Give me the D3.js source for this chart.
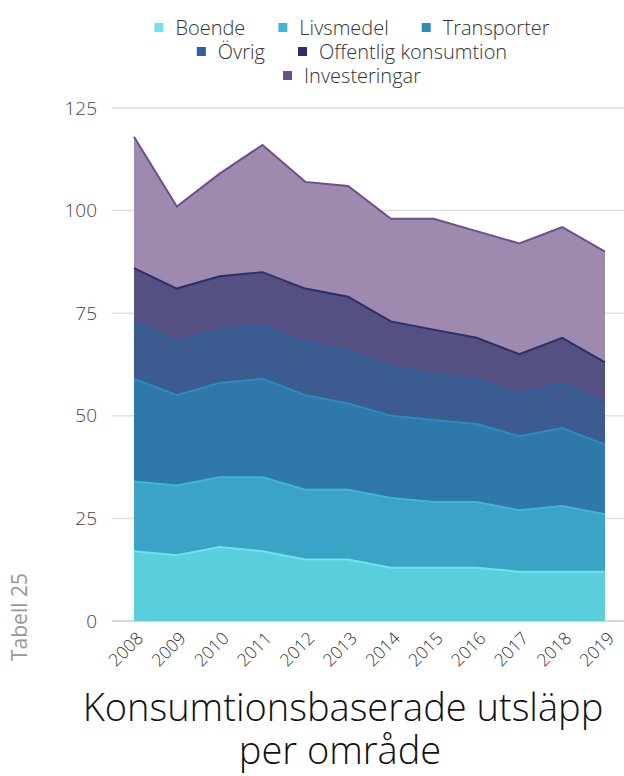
<!DOCTYPE html>
<html>
<head>
<meta charset="utf-8">
<script src="https://cdn.jsdelivr.net/npm/d3@7"></script>
<style>
  body { margin: 0; background: #fff; }
  text { font-family: "Open Sans", sans-serif; }
</style>
</head>
<body>
<div id="chart"></div>
<script>
const years = ["2008", "2009", "2010", "2011", "2012", "2013", "2014", "2015", "2016", "2017", "2018", "2019"];
const seriesNames = ["Boende", "Livsmedel", "Transporter", "Övrig", "Offentlig konsumtion", "Investeringar"];
const boende = [17, 16, 18, 17, 15, 15, 13, 13, 13, 12, 12, 12];
const livsmedel = [17, 17, 17, 18, 17, 17, 17, 16, 16, 15, 16, 14];
const transporter = [25, 22, 23, 24, 23, 21, 20, 20, 19, 18, 19, 17];
const ovrig = [14, 13, 13, 13, 13, 13, 12, 11, 11, 10, 11, 10];
const offentlig = [13, 13, 13, 13, 13, 13, 11, 11, 10, 10, 11, 10];
const investeringar = [32, 20, 25, 31, 26, 27, 25, 27, 26, 27, 27, 27];
const yTicks = [0, 25, 50, 75, 100, 125];

const lineColors = ["#6de3ea", "#41b6d8", "#2b8cbe", "#2c5f9e", "#2b2f6b", "#6d4f8b"];
const fillColors = ["#5bcedd", "#3aa3c6", "#2e78aa", "#3c5b90", "#545082", "#a089ae"];

const W = 624, H = 776;
const margin = { top: 108, right: 19, bottom: 155, left: 134 };

const svg = d3.select("#chart")
    .append("svg")
    .attr("width", W)
    .attr("height", H);

// build rows for the stack
const allSeries = [boende, livsmedel, transporter, ovrig, offentlig, investeringar];
const rows = years.map((yr, i) => {
    const r = { year: yr };
    seriesNames.forEach((n, k) => r[n] = allSeries[k][i]);
    return r;
});
const stacked = d3.stack().keys(seriesNames)(rows);

const x = d3.scalePoint()
    .domain(years)
    .range([margin.left, W - margin.right]);

const y = d3.scaleLinear()
    .domain([0, 125])
    .range([H - margin.bottom, margin.top]);

// gridlines
svg.append("g")
    .selectAll("line")
    .data(yTicks)
    .enter()
    .append("line")
    .attr("x1", 112)
    .attr("x2", W)
    .attr("y1", d => y(d))
    .attr("y2", d => y(d))
    .attr("stroke", d => d === 0 ? "#c8c8c8" : "#e0e0e0")
    .attr("stroke-width", 1.5);

// y labels
svg.append("g")
    .selectAll("text")
    .data(yTicks)
    .enter()
    .append("text")
    .attr("x", 97)
    .attr("y", d => y(d))
    .attr("dy", "0.35em")
    .attr("text-anchor", "end")
    .attr("font-size", 19)
    .attr("font-weight", 300)
    .attr("fill", "#444")
    .text(d => d);

const area = d3.area()
    .x(d => x(d.data.year))
    .y0(d => y(d[0]))
    .y1(d => y(d[1]));

const topLine = d3.line()
    .x(d => x(d.data.year))
    .y(d => y(d[1]));

const layers = svg.append("g");
layers.selectAll("path.area")
    .data(stacked)
    .enter()
    .append("path")
    .attr("class", "area")
    .attr("d", area)
    .attr("fill", (d, i) => fillColors[i]);

layers.selectAll("path.top")
    .data(stacked)
    .enter()
    .append("path")
    .attr("class", "top")
    .attr("d", topLine)
    .attr("fill", "none")
    .attr("stroke", (d, i) => lineColors[i])
    .attr("stroke-width", 2);

// x labels, rotated
svg.append("g")
    .selectAll("text")
    .data(years)
    .enter()
    .append("text")
    .attr("transform", d => `translate(${x(d) + 6},${y(0) + 14}) rotate(-45)`)
    .attr("text-anchor", "end")
    .attr("dy", "0.35em")
    .attr("font-size", 17.5)
    .attr("font-weight", 300)
    .attr("fill", "#333")
    .text(d => d);

// legend
const legendRows = [[0, 1, 2], [3, 4], [5]];
const legendY = [28, 52, 76];
const legendCenter = 352;
legendRows.forEach((row, ri) => {
    const g = svg.append("g");
    let cx = 0;
    row.forEach(k => {
        const item = g.append("g").attr("transform", `translate(${cx},0)`);
        item.append("rect")
            .attr("x", 0)
            .attr("y", legendY[ri] - 5)
            .attr("width", 9)
            .attr("height", 9)
            .attr("fill", lineColors[k]);
        const t = item.append("text")
            .attr("x", 21)
            .attr("y", legendY[ri])
            .attr("dy", "0.35em")
            .attr("font-size", 20)
            .attr("font-weight", 300)
            .attr("fill", "#333")
            .text(seriesNames[k]);
        cx += 21 + t.node().getComputedTextLength() + 33;
    });
    const total = cx - 33;
    g.attr("transform", `translate(${legendCenter - total / 2},0)`);
});

// side label
svg.append("text")
    .attr("transform", "translate(27,617) rotate(-90)")
    .attr("text-anchor", "middle")
    .attr("font-size", 21)
    .attr("fill", "#999")
    .text("Tabell 25");

// title
const title = svg.append("text")
    .attr("text-anchor", "middle")
    .attr("font-size", 38)
    .attr("font-weight", 300)
    .attr("fill", "#111");
title.append("tspan").attr("x", 343).attr("y", 721).text("Konsumtionsbaserade utsläpp");
title.append("tspan").attr("x", 340).attr("y", 764).text("per område");
</script>
</body>
</html>
